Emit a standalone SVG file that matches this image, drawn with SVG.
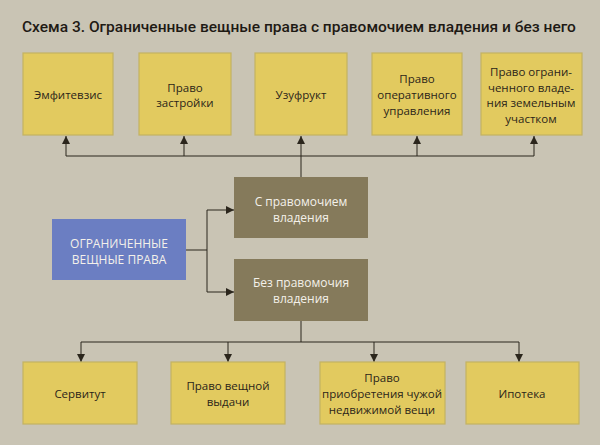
<svg xmlns="http://www.w3.org/2000/svg" width="600" height="445" viewBox="0 0 600 445">
<defs>
<marker id="ah" markerUnits="userSpaceOnUse" markerWidth="8" markerHeight="10" viewBox="0 0 8 10" refX="8" refY="5" orient="auto">
<path d="M0,1 L8,5 L0,9 Z" fill="#2b261c"/>
</marker>
</defs>
<style>
.bg{fill:#c9c4b4}
.y{fill:#e2ca5f;stroke:#c3b262;stroke-width:1.2}
.o{fill:#857a5b}
.b{fill:#6b7ec2}
.t{font-family:"Open Sans","Noto Sans",sans-serif;font-size:11.5px;fill:#2b2519;text-anchor:middle}
.w{font-family:"Open Sans","Noto Sans",sans-serif;font-size:12px;fill:#f4f1ea;text-anchor:middle}
.c{fill:none;stroke:#2b261c;stroke-width:1}
.title{font-family:Roboto,"Open Sans",sans-serif;font-size:15.5px;font-weight:500;fill:#1e1a14}
</style>
<rect class="bg" x="0" y="0" width="600" height="445"/>
<text class="title" x="22" y="32">Схема 3. Ограниченные вещные права с правомочием владения и без него</text>

<g id="connectors">
<path class="c" d="M66,156 H534"/>
<path class="c" d="M66,156 V136" marker-end="url(#ah)"/>
<path class="c" d="M184,156 V136" marker-end="url(#ah)"/>
<path class="c" d="M301,177 V136" marker-end="url(#ah)"/>
<path class="c" d="M417,156 V136" marker-end="url(#ah)"/>
<path class="c" d="M534,156 V136" marker-end="url(#ah)"/>
<path class="c" d="M186,250 H207 M207,210 V292"/>
<path class="c" d="M207,210 H234" marker-end="url(#ah)"/>
<path class="c" d="M207,292 H234" marker-end="url(#ah)"/>
<path class="c" d="M301,321 V342 M81,342 H519"/>
<path class="c" d="M81,342 V362" marker-end="url(#ah)"/>
<path class="c" d="M228,342 V362" marker-end="url(#ah)"/>
<path class="c" d="M374,342 V362" marker-end="url(#ah)"/>
<path class="c" d="M519,342 V362" marker-end="url(#ah)"/>
</g>

<g id="emfitevzis">
<rect class="y" x="23" y="53" width="90" height="82"/>
<text class="t" x="68" y="99">Эмфитевзис</text>
</g>
<g id="pravo-zastroyki">
<rect class="y" x="139" y="53" width="92" height="82"/>
<text class="t" x="185" y="92">Право</text>
<text class="t" x="185" y="107">застройки</text>
</g>
<g id="uzufrukt">
<rect class="y" x="255" y="53" width="92" height="82"/>
<text class="t" x="301" y="99">Узуфрукт</text>
</g>
<g id="operativnoe">
<rect class="y" x="372" y="53" width="90" height="82"/>
<text class="t" x="417" y="83">Право</text>
<text class="t" x="417" y="99">оперативного</text>
<text class="t" x="417" y="115">управления</text>
</g>
<g id="ogranichennoe-vladenie">
<rect class="y" x="481" y="53" width="101" height="82"/>
<text class="t" x="531" y="76">Право ограни-</text>
<text class="t" x="531" y="92">ченного владе-</text>
<text class="t" x="531" y="107">ния земельным</text>
<text class="t" x="531" y="123">участком</text>
</g>

<g id="s-pravomochiem">
<rect class="o" x="234" y="177" width="134" height="61"/>
<text class="w" x="301" y="206">С правомочием</text>
<text class="w" x="301" y="222">владения</text>
</g>
<g id="bez-pravomochiya">
<rect class="o" x="234" y="259" width="134" height="62"/>
<text class="w" x="301" y="287">Без правомочия</text>
<text class="w" x="301" y="303">владения</text>
</g>
<g id="ogranichennye">
<rect class="b" x="52" y="219" width="134" height="61"/>
<text class="w" x="119" y="248">ОГРАНИЧЕННЫЕ</text>
<text class="w" x="119" y="264">ВЕЩНЫЕ ПРАВА</text>
</g>

<g id="servitut">
<rect class="y" x="23" y="362" width="114" height="62"/>
<text class="t" x="80" y="398">Сервитут</text>
</g>
<g id="veshchnaya-vydacha">
<rect class="y" x="171" y="362" width="114" height="62"/>
<text class="t" x="228" y="390">Право вещной</text>
<text class="t" x="228" y="406">выдачи</text>
</g>
<g id="priobretenie">
<rect class="y" x="320" y="362" width="125" height="62"/>
<text class="t" x="382" y="382">Право</text>
<text class="t" x="382" y="398">приобретения чужой</text>
<text class="t" x="382" y="414">недвижимой вещи</text>
</g>
<g id="ipoteka">
<rect class="y" x="466" y="362" width="113" height="62"/>
<text class="t" x="522" y="398">Ипотека</text>
</g>
</svg>
